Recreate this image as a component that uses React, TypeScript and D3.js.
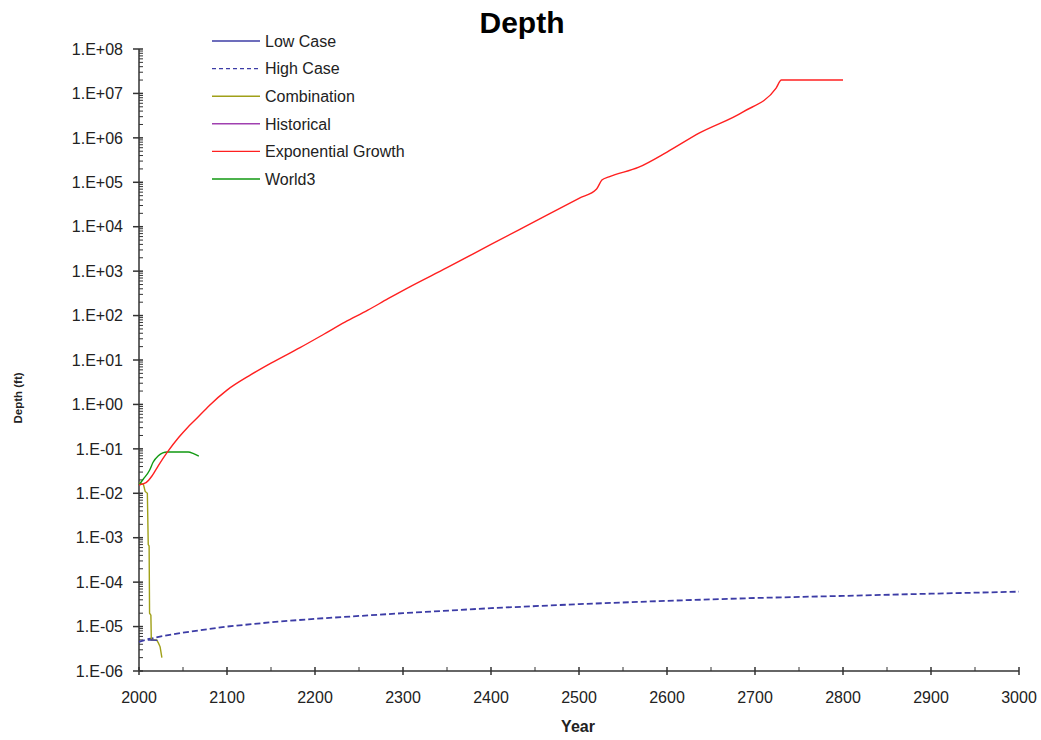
import React, { useRef, useEffect } from 'react';
import * as d3 from 'd3';

type Pt = [number, number];

// --- Data (year, depth in ft) ---
const lowCase: Pt[] = [[2010, 5.0e-6], [2015, 5.0e-6], [2021, 4.9e-6]];

const highCase: Pt[] = [
  [2000, 4.5e-6], [2010, 5.2e-6], [2025, 6.0e-6], [2050, 7.3e-6], [2100, 1.0e-5],
  [2150, 1.25e-5], [2200, 1.5e-5], [2300, 2.0e-5], [2400, 2.6e-5], [2500, 3.2e-5],
  [2600, 3.8e-5], [2700, 4.4e-5], [2800, 4.9e-5], [2900, 5.5e-5], [3000, 6.1e-5],
];

const combination: Pt[] = [
  [2000, 1.7e-2], [2005, 1.6e-2], [2007, 1.1e-2], [2009.5, 1.0e-2], [2010.5, 7.0e-4],
  [2011.5, 6.5e-4], [2012, 2.0e-5], [2013.5, 1.8e-5], [2014, 5.0e-6], [2020, 5.0e-6],
  [2022, 4.3e-6], [2024, 3.5e-6], [2026, 2.0e-6],
];

const historical: Pt[] = [[2000, 1.55e-2], [2002, 1.58e-2]];

const exponential: Pt[] = [
  [2000, 1.55e-2], [2008, 1.74e-2], [2015, 2.5e-2], [2022, 4.2e-2], [2032, 8.3e-2],
  [2045, 0.18], [2055, 0.30], [2064, 0.45], [2080, 0.95], [2100, 2.1],
  [2125, 4.4], [2150, 8.5], [2183, 19], [2210, 38], [2234, 71],
  [2260, 132], [2283, 240], [2305, 417], [2350, 1200], [2400, 4000],
  [2450, 13200], [2500, 43600], [2520, 70800], [2526, 112000], [2534, 132000],
  [2568, 219000], [2600, 479000], [2637, 1.29e6], [2686, 3.8e6], [2724, 1.32e7],
  [2730, 2.0e7], [2800, 2.0e7],
];

const world3: Pt[] = [
  [2000, 1.55e-2], [2005, 2.1e-2], [2012, 3.3e-2], [2016, 5.0e-2], [2022, 7.0e-2],
  [2027, 8.1e-2], [2032, 8.5e-2], [2056, 8.5e-2], [2062, 7.8e-2], [2068, 6.9e-2],
];

const series = [
  { name: 'Low Case', data: lowCase, color: '#3c3ca6', dash: null },
  { name: 'High Case', data: highCase, color: '#3c3ca6', dash: '6 3' },
  { name: 'Combination', data: combination, color: '#a0a018', dash: null },
  { name: 'Historical', data: historical, color: '#a040b0', dash: null },
  { name: 'Exponential Growth', data: exponential, color: '#ff2020', dash: null },
  { name: 'World3', data: world3, color: '#119911', dash: null },
];

// draw order: bottom to top
const drawOrder = ['High Case', 'Combination', 'Low Case', 'Historical', 'World3', 'Exponential Growth'];

const xTicks = d3.range(2000, 3001, 100);
const xMinor = d3.range(2050, 3000, 100);
const yExponents = d3.range(-6, 9);

const fmtExp = (k: number) => `1.E${k >= 0 ? '+' : '-'}${String(Math.abs(k)).padStart(2, '0')}`;

const DepthChart = ({ width = 1041, height = 740 }) => {
  const svgRef = useRef<SVGSVGElement>(null);

  useEffect(() => {
    const font = 'Arial, "Liberation Sans", sans-serif';
    const svg = d3.select(svgRef.current)
      .attr('width', width)
      .attr('height', height)
      .html('');

    // --- Scales ---
    const x = d3.scaleLinear().domain([2000, 3000]).range([139, 1019]);
    const y = d3.scaleLog().domain([1e-6, 1e8]).range([671, 49]);

    // --- Title & axis titles ---
    svg.append('text')
      .attr('x', 522).attr('y', 33)
      .attr('text-anchor', 'middle')
      .attr('font-family', font).attr('font-weight', 'bold').attr('font-size', 30)
      .attr('fill', '#000')
      .text('Depth');

    svg.append('text')
      .attr('transform', 'translate(22,398) rotate(-90)')
      .attr('text-anchor', 'middle')
      .attr('font-family', font).attr('font-weight', 'bold').attr('font-size', 11.5)
      .attr('fill', '#222')
      .text('Depth (ft)');

    svg.append('text')
      .attr('x', 578).attr('y', 732)
      .attr('text-anchor', 'middle')
      .attr('font-family', font).attr('font-weight', 'bold').attr('font-size', 16)
      .attr('fill', '#222')
      .text('Year');

    // --- Axes ---
    const axis = svg.append('g').attr('stroke', '#333').attr('stroke-width', 1.5);
    axis.append('line').attr('x1', 139).attr('x2', 139).attr('y1', 49).attr('y2', 671);
    axis.append('line').attr('x1', 139).attr('x2', 1019).attr('y1', 671).attr('y2', 671);

    // y major ticks + labels
    yExponents.forEach(k => {
      const yy = y(Math.pow(10, k));
      axis.append('line').attr('x1', 133).attr('x2', 143).attr('y1', yy).attr('y2', yy);
      svg.append('text')
        .attr('x', 123).attr('y', yy).attr('dy', '0.36em')
        .attr('text-anchor', 'end')
        .attr('font-family', font).attr('font-size', 16).attr('fill', '#222')
        .text(fmtExp(k));
    });
    // y minor ticks
    yExponents.slice(0, -1).forEach(k => {
      d3.range(2, 10).forEach(m => {
        const yy = y(m * Math.pow(10, k));
        axis.append('line').attr('stroke-width', 1)
          .attr('x1', 139).attr('x2', 143).attr('y1', yy).attr('y2', yy);
      });
    });

    // x ticks
    xTicks.forEach(t => {
      const xx = x(t);
      axis.append('line').attr('x1', xx).attr('x2', xx).attr('y1', 667).attr('y2', 675);
      svg.append('text')
        .attr('x', xx).attr('y', 703)
        .attr('text-anchor', 'middle')
        .attr('font-family', font).attr('font-size', 16).attr('fill', '#222')
        .text(t);
    });
    xMinor.forEach(t => {
      const xx = x(t);
      axis.append('line').attr('stroke-width', 1)
        .attr('x1', xx).attr('x2', xx).attr('y1', 667).attr('y2', 671);
    });

    // --- Series ---
    const line = d3.line<Pt>().x(d => x(d[0])).y(d => y(d[1]));
    const smooth = d3.line<Pt>().x(d => x(d[0])).y(d => y(d[1])).curve(d3.curveMonotoneX);
    drawOrder.forEach(name => {
      const s = series.find(d => d.name === name)!;
      const gen = name === 'Exponential Growth' || name === 'World3' ? smooth : line;
      svg.append('path')
        .datum(s.data)
        .attr('d', gen)
        .attr('fill', 'none')
        .attr('stroke', s.color)
        .attr('stroke-width', s.dash ? 1.8 : 1.4)
        .attr('stroke-dasharray', s.dash);
    });

    // --- Legend ---
    const legend = svg.append('g');
    series.forEach((s, i) => {
      const ly = 41 + i * 27.6;
      legend.append('line')
        .attr('x1', 212).attr('x2', 260).attr('y1', ly).attr('y2', ly)
        .attr('stroke', s.color).attr('stroke-width', 1.4)
        .attr('stroke-dasharray', s.dash ? '4 3' : null);
      legend.append('text')
        .attr('x', 265).attr('y', ly).attr('dy', '0.36em')
        .attr('font-family', font).attr('font-size', 16).attr('fill', '#222')
        .text(s.name);
    });
  }, [width, height]);

  return <svg ref={svgRef} style={{ position: 'absolute', left: 0, top: 0 }}></svg>;
};

export default function App() {
  return <DepthChart />;
}
